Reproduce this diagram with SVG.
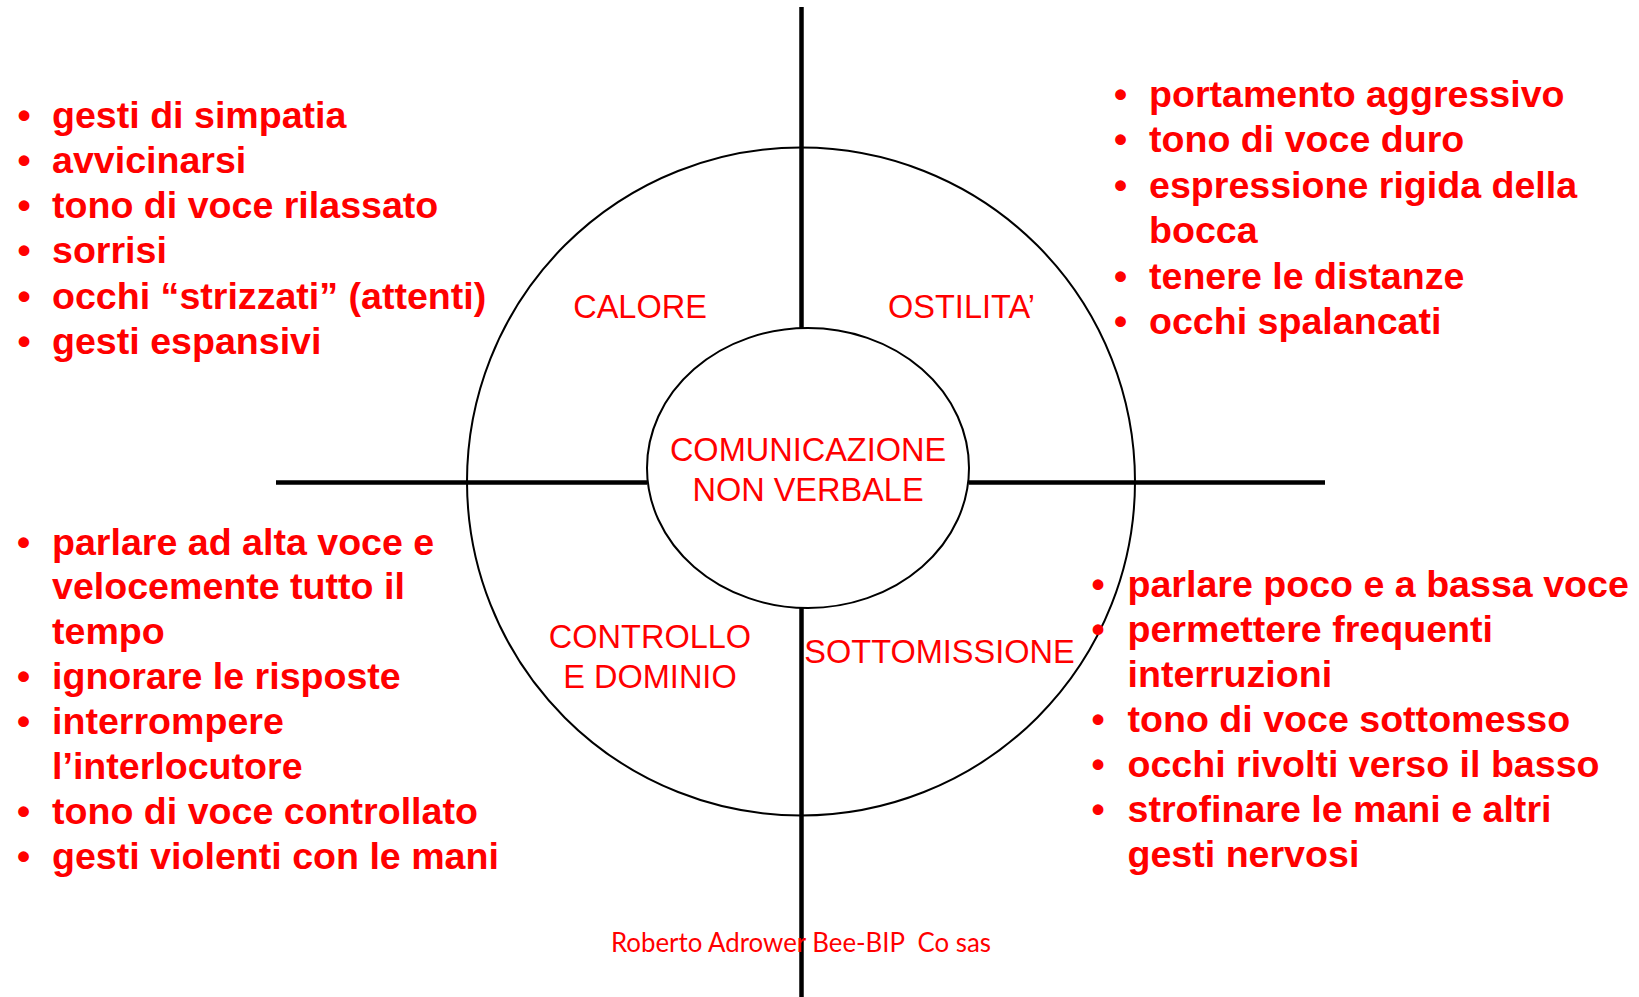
<svg xmlns="http://www.w3.org/2000/svg" width="1639" height="997" viewBox="0 0 1639 997">
<style>
.li{font-family:"Liberation Sans",Arial,sans-serif;font-weight:bold;font-size:37.6px;fill:#ff0000}
.bu{font-family:"Liberation Sans",Arial,sans-serif;font-weight:bold;font-size:37.6px;fill:#ff0000;text-anchor:middle}
.lb{font-family:"Liberation Sans",Arial,sans-serif;font-size:32.5px;fill:#ff0000;text-anchor:middle}
.ax{stroke:#000;stroke-width:4.5;fill:none}
.rg{stroke:#000;stroke-width:2;fill:none}
.ft{font-family:Lato,"Open Sans",sans-serif;font-size:26px;fill:#ff0000}
</style>
<rect width="1639" height="997" fill="#fff"/>
<g id="connectors">
<line class="ax" x1="801.5" y1="7" x2="801.5" y2="328"/>
<line class="ax" x1="801.5" y1="608" x2="801.5" y2="997"/>
<line class="ax" x1="276" y1="482.5" x2="647" y2="482.5"/>
<line class="ax" x1="969" y1="482.5" x2="1325" y2="482.5"/>
</g>
<g id="outer-ring"><circle class="rg" cx="801" cy="481.5" r="334"/></g>
<g id="center">
<ellipse class="rg" cx="808" cy="468" rx="161" ry="140" fill="#fff"/>
<text class="lb" x="808" y="460.5">COMUNICAZIONE</text>
<text class="lb" x="808" y="500.5">NON VERBALE</text>
</g>
<g id="label-calore"><text class="lb" x="640" y="318">CALORE</text></g>
<g id="label-ostilita"><text class="lb" x="961.5" y="318">OSTILITA’</text></g>
<g id="label-controllo"><text class="lb" x="650" y="648">CONTROLLO</text><text class="lb" x="650" y="688">E DOMINIO</text></g>
<g id="label-sottomissione"><text class="lb" x="939.5" y="662.5">SOTTOMISSIONE</text></g>
<g id="list-calore">
<text class="bu" x="24" y="127.5">•</text><text class="li" x="52" y="127.5">gesti di simpatia</text>
<text class="bu" x="24" y="172.8">•</text><text class="li" x="52" y="172.8">avvicinarsi</text>
<text class="bu" x="24" y="218.1">•</text><text class="li" x="52" y="218.1">tono di voce rilassato</text>
<text class="bu" x="24" y="263.4">•</text><text class="li" x="52" y="263.4">sorrisi</text>
<text class="bu" x="24" y="308.7">•</text><text class="li" x="52" y="308.7">occhi “strizzati” (attenti)</text>
<text class="bu" x="24" y="354">•</text><text class="li" x="52" y="354">gesti espansivi</text>
</g>
<g id="list-ostilita">
<text class="bu" x="1120.7" y="107">•</text><text class="li" x="1149" y="107">portamento aggressivo</text>
<text class="bu" x="1120.7" y="152.4">•</text><text class="li" x="1149" y="152.4">tono di voce duro</text>
<text class="bu" x="1120.7" y="197.8">•</text><text class="li" x="1149" y="197.8">espressione rigida della</text>
<text class="li" x="1149" y="243.2">bocca</text>
<text class="bu" x="1120.7" y="288.6">•</text><text class="li" x="1149" y="288.6">tenere le distanze</text>
<text class="bu" x="1120.7" y="334">•</text><text class="li" x="1149" y="334">occhi spalancati</text>
</g>
<g id="list-controllo">
<text class="bu" x="23.5" y="554.5">•</text><text class="li" x="52" y="554.5">parlare ad alta voce e</text>
<text class="li" x="52" y="599.4">velocemente tutto il</text>
<text class="li" x="52" y="644.3">tempo</text>
<text class="bu" x="23.5" y="689.2">•</text><text class="li" x="52" y="689.2">ignorare le risposte</text>
<text class="bu" x="23.5" y="734.1">•</text><text class="li" x="52" y="734.1">interrompere</text>
<text class="li" x="52" y="779">l’interlocutore</text>
<text class="bu" x="23.5" y="823.9">•</text><text class="li" x="52" y="823.9">tono di voce controllato</text>
<text class="bu" x="23.5" y="868.8">•</text><text class="li" x="52" y="868.8">gesti violenti con le mani</text>
</g>
<g id="list-sottomissione">
<text class="bu" x="1098" y="596.5">•</text><text class="li" x="1127.5" y="596.5">parlare poco e a bassa voce</text>
<text class="bu" x="1098" y="641.5">•</text><text class="li" x="1127.5" y="641.5">permettere frequenti</text>
<text class="li" x="1127.5" y="686.5">interruzioni</text>
<text class="bu" x="1098" y="731.5">•</text><text class="li" x="1127.5" y="731.5">tono di voce sottomesso</text>
<text class="bu" x="1098" y="776.5">•</text><text class="li" x="1127.5" y="776.5">occhi rivolti verso il basso</text>
<text class="bu" x="1098" y="821.5">•</text><text class="li" x="1127.5" y="821.5">strofinare le mani e altri</text>
<text class="li" x="1127.5" y="866.5">gesti nervosi</text>
</g>
<g id="footer"><text class="ft" x="611" y="951.5" xml:space="preserve" textLength="380" lengthAdjust="spacingAndGlyphs">Roberto Adrower Bee-BIP  Co sas</text></g>
</svg>
